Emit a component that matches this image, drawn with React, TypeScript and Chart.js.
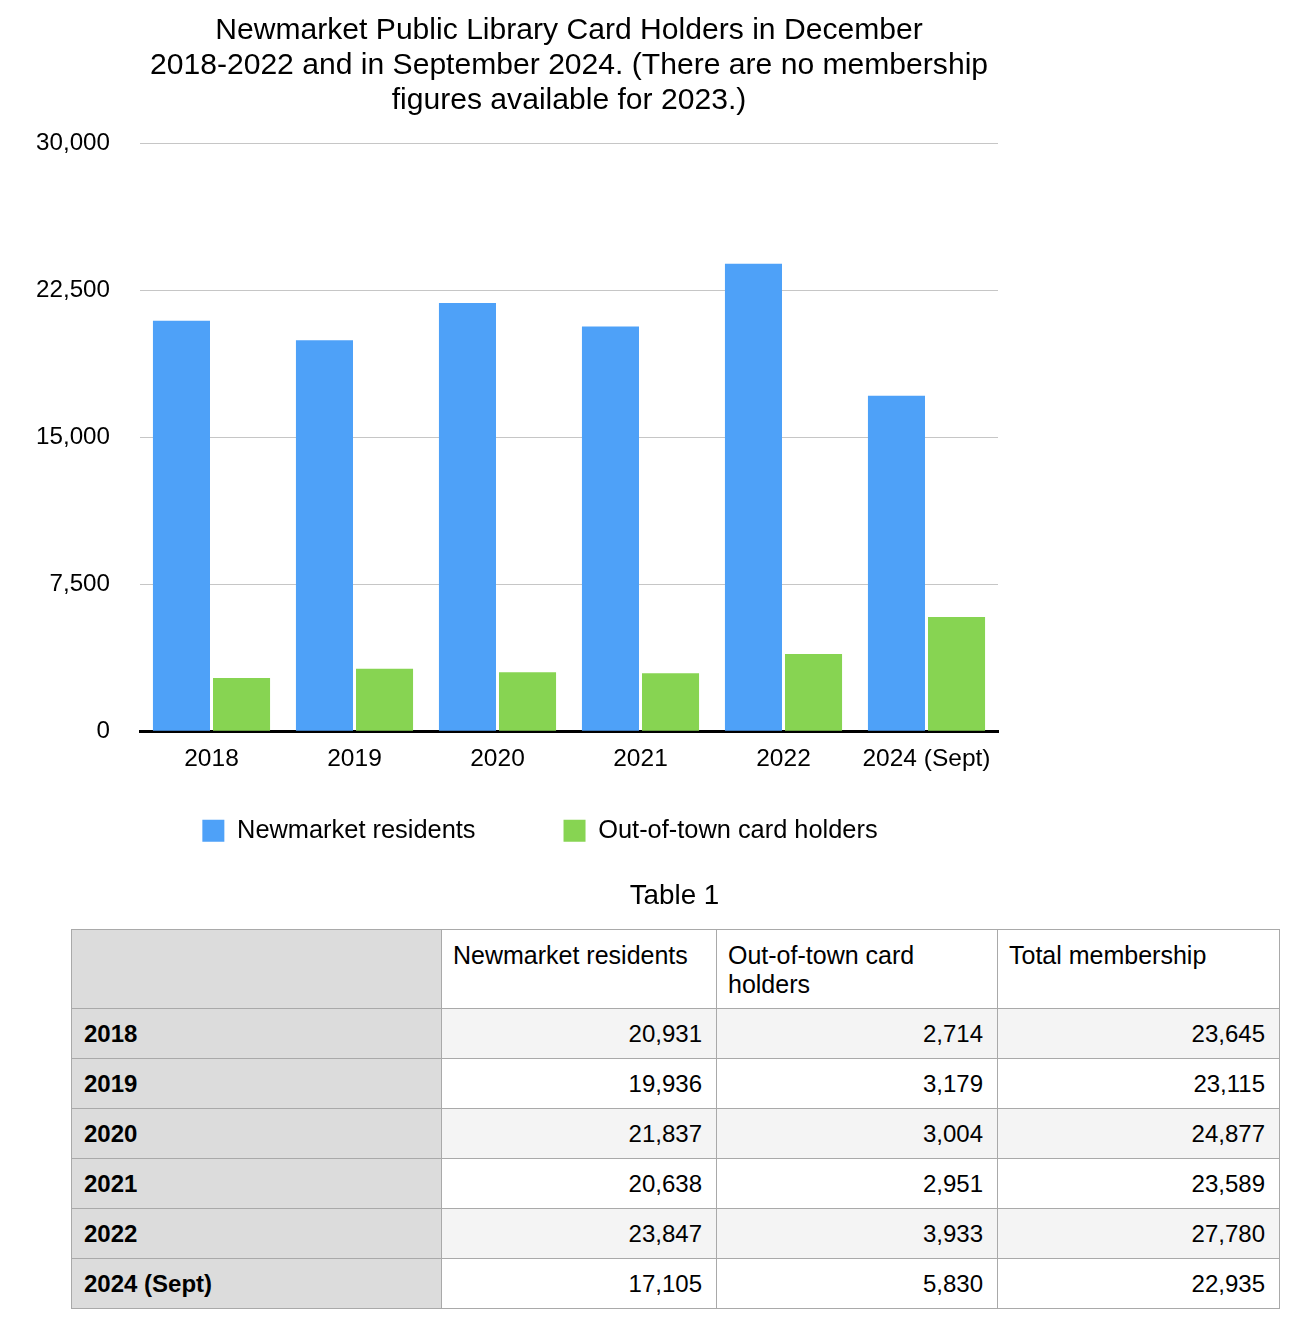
import { useEffect, useRef } from "react";
import { Chart, registerables } from "chart.js";

Chart.register(...registerables);

const titleLines = [
  "Newmarket Public Library Card Holders in December",
  "2018-2022 and in September 2024. (There are no membership",
  "figures available for 2023.)",
];
const years = ["2018", "2019", "2020", "2021", "2022", "2024 (Sept)"];
const residents = [20931, 19936, 21837, 20638, 23847, 17105];
const outOfTown = [2714, 3179, 3004, 2951, 3933, 5830];
const totals = [23645, 23115, 24877, 23589, 27780, 22935];
const seriesNames = ["Newmarket residents", "Out-of-town card holders"];
const yTicks = [0, 7500, 15000, 22500, 30000];
const tableTitle = "Table 1";
const tableHeaders = ["", "Newmarket residents", "Out-of-town card holders", "Total membership"];

const FONT = '"Liberation Sans", Arial, Helvetica, sans-serif';
const BLUE = "#4ea1f8";
const GREEN = "#87d452";

const fmt = (v: number) => v.toLocaleString("en-US");

export default function App() {
  const canvasRef = useRef<HTMLCanvasElement | null>(null);

  useEffect(() => {
    if (!canvasRef.current) return;
    const legendShift = {
      id: "legendShift",
      afterLayout(chart: any) {
        const l = chart.legend;
        if (!l) return;
        const targetTop = 730;
        const dy = l.top - targetTop;
        l.top -= dy;
        l.bottom -= dy;
        const targetCenter = 540;
        const dx = targetCenter - (l.left + l.right) / 2;
        l.left += dx;
        l.right += dx;
      },
    };
    const chart = new Chart(canvasRef.current, {
      type: "bar",
      data: {
        labels: years,
        datasets: [
          {
            label: seriesNames[0],
            data: residents,
            backgroundColor: BLUE,
            borderWidth: 0,
          },
          {
            label: seriesNames[1],
            data: outOfTown,
            backgroundColor: GREEN,
            borderWidth: 0,
          },
        ],
      },
      options: {
        responsive: false,
        animation: false,
        devicePixelRatio: 1,
        layout: { padding: { left: 0, right: 12, top: 0, bottom: 0 } },
        categoryPercentage: 0.84,
        barPercentage: 0.95,
        plugins: {
          title: {
            display: true,
            text: titleLines,
            fullSize: false,
            color: "#000",
            font: { family: FONT, size: 30.1, weight: "normal", lineHeight: 35 / 30.1 },
            padding: { top: 13.5, bottom: 24.5 },
          },
          legend: {
            position: "bottom",
            labels: {
              boxWidth: 22,
              boxHeight: 22,
              padding: 88,
              color: "#000",
              font: { family: FONT, size: 25.4 },
            },
          },
          tooltip: { enabled: false },
        },
        scales: {
          x: {
            z: 1,
            grid: { display: false, drawTicks: false },
            border: { display: true, color: "#000", width: 3 },
            ticks: {
              color: "#000",
              padding: 13,
              font: { family: FONT, size: 24.5 },
              maxRotation: 0,
              autoSkip: false,
            },
          },
          y: {
            min: 0,
            max: 30000,
            afterFit: (scale: any) => {
              scale.width = 140;
            },
            afterBuildTicks: (scale: any) => {
              scale.ticks = yTicks.map((v) => ({ value: v }));
            },
            grid: { color: "#c6c6c6", lineWidth: 1, drawTicks: false },
            border: { display: false },
            ticks: {
              color: "#000",
              padding: 30,
              font: { family: FONT, size: 24.2 },
              callback: (v: any) => fmt(Number(v)),
            },
          },
        },
      },
      plugins: [legendShift],
    } as any);
    return () => chart.destroy();
  }, []);

  const cellBase: React.CSSProperties = {
    border: "1px solid #a9a9a9",
    padding: "0 14px 0 11px",
    fontFamily: FONT,
    fontSize: 24,
    color: "#000",
  };

  return (
    <div style={{ position: "absolute", left: 0, top: 0, width: 1298, height: 1324, background: "#fff" }}>
      <canvas
        ref={canvasRef}
        width={1010}
        height={910}
        style={{ position: "absolute", left: 0, top: 0, width: 1010, height: 910 }}
      />
      <div
        style={{
          position: "absolute",
          left: 71,
          top: 879,
          width: 1207,
          textAlign: "center",
          fontFamily: FONT,
          fontSize: 27.8,
          lineHeight: "32px",
          color: "#000",
        }}
      >
        {tableTitle}
      </div>
      <table
        style={{
          position: "absolute",
          left: 71,
          top: 929,
          width: 1208,
          borderCollapse: "collapse",
          tableLayout: "fixed",
        }}
      >
        <colgroup>
          <col style={{ width: 370 }} />
          <col style={{ width: 275 }} />
          <col style={{ width: 281 }} />
          <col style={{ width: 282 }} />
        </colgroup>
        <thead>
          <tr style={{ height: 79 }}>
            {tableHeaders.map((h, i) => (
              <th
                key={i}
                style={{
                  ...cellBase,
                  fontSize: 25,
                  fontWeight: "normal",
                  textAlign: "left",
                  verticalAlign: "top",
                  lineHeight: "29px",
                  paddingTop: 11,
                  background: i === 0 ? "#dcdcdc" : "#fff",
                }}
              >
                {h}
              </th>
            ))}
          </tr>
        </thead>
        <tbody>
          {years.map((y, r) => {
            const bg = r % 2 === 0 ? "#f4f4f4" : "#fff";
            return (
              <tr key={y} style={{ height: 50 }}>
                <td style={{ ...cellBase, fontWeight: "bold", background: "#dcdcdc", textAlign: "left", paddingLeft: 12 }}>{y}</td>
                <td style={{ ...cellBase, background: bg, textAlign: "right" }}>{fmt(residents[r])}</td>
                <td style={{ ...cellBase, background: bg, textAlign: "right" }}>{fmt(outOfTown[r])}</td>
                <td style={{ ...cellBase, background: bg, textAlign: "right" }}>{fmt(totals[r])}</td>
              </tr>
            );
          })}
        </tbody>
      </table>
    </div>
  );
}
